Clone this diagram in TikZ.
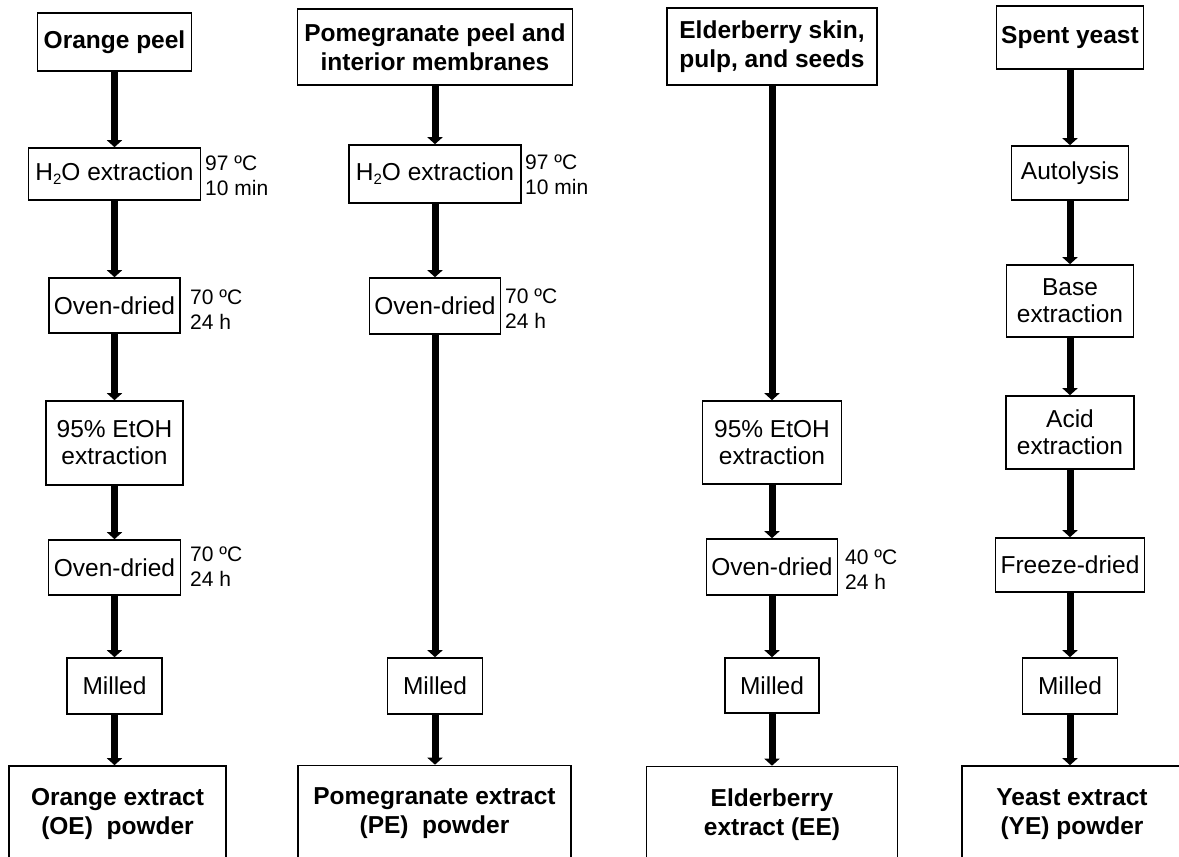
\documentclass[tikz,border=0pt]{standalone}
\usepackage{fontspec}
\setmainfont{Liberation Sans}
\usetikzlibrary{arrows.meta}
\newcommand{\subtwo}{\raisebox{-0.3ex}{\fontsize{15}{15}\selectfont 2}}
\tikzset{
  box/.style={draw, line width=1.6pt, inner sep=0pt, align=center,
    font=\fontsize{24.5}{27}\selectfont},
  bbox/.style={box, font=\fontsize{24.5}{29}\selectfont\bfseries},
  note/.style={anchor=west, inner sep=0pt, align=left,
    font=\fontsize{21}{25}\selectfont},
  arr/.style={line width=7pt, -{Triangle[width=15pt,length=7pt]}},
}
\begin{document}
\begin{tikzpicture}[x=1pt,y=-1pt]
\useasboundingbox (0,0) rectangle (1179,857);
% column 1
\node[bbox, minimum width=154pt, minimum height=58pt] (o1) at (114.5,42) {Orange peel};
\node[box, minimum width=172pt, minimum height=52pt] (o2) at (114.5,174) {H\subtwo O extraction};
\node[box, minimum width=131pt, minimum height=55pt] (o3) at (114.5,305.5) {Oven-dried};
\node[box, minimum width=137pt, minimum height=84pt] (o4) at (114.5,443) {95\% EtOH\\extraction};
\node[box, minimum width=132pt, minimum height=55pt] (o5) at (114.5,567.5) {Oven-dried};
\node[box, minimum width=95pt, minimum height=56pt] (o6) at (114.5,686) {Milled};
\node[bbox, minimum width=217pt, minimum height=96pt] (o7) at (117.5,814) {Orange extract\\(OE)\ \ powder};
\node[note] (n1) at (205,175.5) {97 ºC\\10 min};
\node[note] (n2) at (190,309.5) {70 ºC\\24 h};
\node[note] (n3) at (190,567) {70 ºC\\24 h};
\draw[arr] (o1.south) -- (o2.north);
\draw[arr] (o2.south) -- (o3.north);
\draw[arr] (o3.south) -- (o4.north);
\draw[arr] (o4.south) -- (o5.north);
\draw[arr] (o5.south) -- (o6.north);
\draw[arr] (o6.south) -- (o6.south |- o7.north);
% column 2
\node[bbox, minimum width=275pt, minimum height=76pt] (p1) at (435,47) {Pomegranate peel and\\interior membranes};
\node[box, minimum width=172pt, minimum height=58pt] (p2) at (435,174) {H\subtwo O extraction};
\node[box, minimum width=131pt, minimum height=56pt] (p3) at (435,306) {Oven-dried};
\node[box, minimum width=95pt, minimum height=56pt] (p4) at (435,686) {Milled};
\node[bbox, minimum width=273pt, minimum height=96pt] (p5) at (434.5,813.5) {Pomegranate extract\\(PE)\ \ powder};
\node[note] (n4) at (525,174.5) {97 ºC\\10 min};
\node[note] (n5) at (505,309) {70 ºC\\24 h};
\draw[arr] (p1.south) -- (p2.north);
\draw[arr] (p2.south) -- (p3.north);
\draw[arr] (p3.south) -- (p4.north);
\draw[arr] (p4.south) -- (p4.south |- p5.north);
% column 3
\node[bbox, minimum width=210pt, minimum height=77pt] (e1) at (772,46.5) {Elderberry skin,\\pulp, and seeds};
\node[box, minimum width=139pt, minimum height=83pt] (e2) at (772,442.5) {95\% EtOH\\extraction};
\node[box, minimum width=131pt, minimum height=56pt] (e3) at (772,567) {Oven-dried};
\node[box, minimum width=94pt, minimum height=55pt] (e4) at (772,685.5) {Milled};
\node[bbox, minimum width=251pt, minimum height=96pt] (e5) at (772,814.5) {Elderberry\\extract (EE)};
\node[note] (n6) at (845,569.5) {40 ºC\\24 h};
\draw[arr] (e1.south) -- (e2.north);
\draw[arr] (e2.south) -- (e3.north);
\draw[arr] (e3.south) -- (e4.north);
\draw[arr] (e4.south) -- (e5.north);
% column 4
\node[bbox, minimum width=147pt, minimum height=63pt] (y1) at (1070,37.5) {Spent yeast};
\node[box, minimum width=117pt, minimum height=54pt] (y2) at (1070,173) {Autolysis};
\node[box, minimum width=127pt, minimum height=72pt] (y3) at (1070,301) {Base\\extraction};
\node[box, minimum width=128pt, minimum height=73pt] (y4) at (1070,432.5) {Acid\\extraction};
\node[box, minimum width=149pt, minimum height=54pt] (y5) at (1070,565) {Freeze-dried};
\node[box, minimum width=95pt, minimum height=56pt] (y6) at (1070,686) {Milled};
\node[bbox, minimum width=220pt, minimum height=96pt] (y7) at (1072,814) {Yeast extract\\(YE) powder};
\draw[arr] (y1.south) -- (y2.north);
\draw[arr] (y2.south) -- (y3.north);
\draw[arr] (y3.south) -- (y4.north);
\draw[arr] (y4.south) -- (y5.north);
\draw[arr] (y5.south) -- (y6.north);
\draw[arr] (y6.south) -- (y6.south |- y7.north);
\end{tikzpicture}
\end{document}
